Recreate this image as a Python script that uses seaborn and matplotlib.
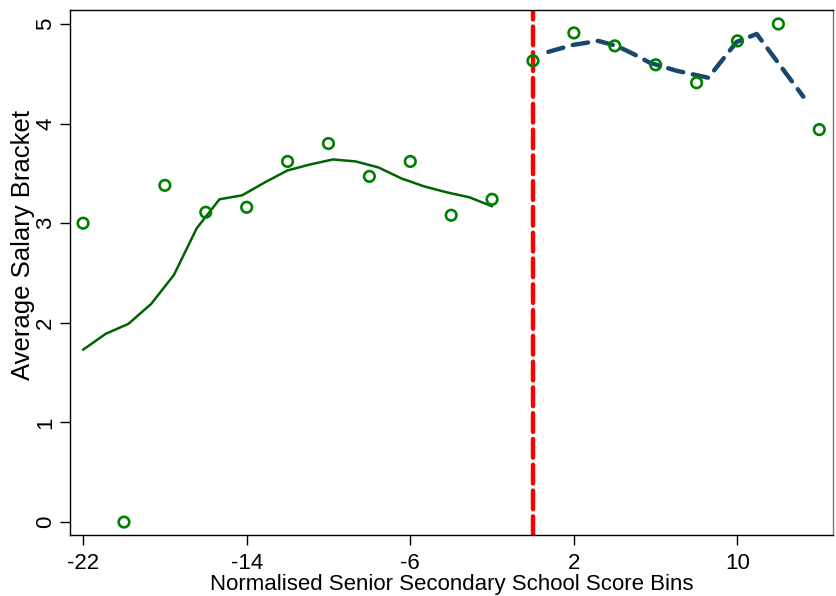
import numpy as np
import pandas as pd
import matplotlib
matplotlib.use("Agg")
import matplotlib.pyplot as plt
import seaborn as sns

# Binned scatter data
bin_x = [-22, -20, -18, -16, -14, -12, -10, -8, -6, -4, -2, 0, 2, 4, 6, 8, 10, 12, 14]
bin_y = [3.00, 0.00, 3.38, 3.11, 3.16, 3.62, 3.80, 3.47, 3.62, 3.08, 3.24,
         4.63, 4.91, 4.78, 4.59, 4.41, 4.83, 5.00, 3.94]

# Left fitted line
left_x = [-22.0, -20.89, -19.78, -18.67, -17.56, -16.44, -15.33, -14.22, -13.11, -12.0,
          -10.89, -9.78, -8.67, -7.56, -6.44, -5.33, -4.22, -3.11, -2.0]
left_y = [1.73, 1.89, 1.99, 2.19, 2.48, 2.95, 3.24, 3.28, 3.41, 3.53,
          3.59, 3.64, 3.62, 3.56, 3.45, 3.37, 3.31, 3.26, 3.17]

# Right fitted line
right_x = [0.75, 1.97, 3.19, 4.09, 4.90, 5.72, 7.03, 8.57, 9.96, 10.94, 13.22]
right_y = [4.72, 4.79, 4.83, 4.78, 4.70, 4.61, 4.53, 4.46, 4.82, 4.90, 4.27]

cutoff = 0
x_ticks = [-22, -14, -6, 2, 10]
y_ticks = [0, 1, 2, 3, 4, 5]

sns.set_theme(style="white", rc={"text.color": "black", "axes.labelcolor": "black",
                                 "xtick.color": "black", "ytick.color": "black"})
plt.rcParams['font.family'] = ['Liberation Sans', 'DejaVu Sans']

fig = plt.figure(figsize=(8.37, 5.96), dpi=100)
ax = fig.add_axes([0.0836, 0.1023, 0.9116, 0.8809])

df_bins = pd.DataFrame({"x": bin_x, "y": bin_y})
df_left = pd.DataFrame({"x": left_x, "y": left_y})
df_right = pd.DataFrame({"x": right_x, "y": right_y})

sns.lineplot(data=df_left, x="x", y="y", ax=ax, color="#006400", linewidth=1.8,
             sort=False, zorder=3)
sns.lineplot(data=df_right, x="x", y="y", ax=ax, color="#1a476f", linewidth=3.2,
             sort=False, zorder=3, dashes=False)
ax.lines[-1].set_dashes([3.5, 2.2])
ax.lines[-1].set_dash_capstyle("round")
ax.lines[-1].set_solid_capstyle("round")

vl = ax.axvline(cutoff, color="#ff0000", linewidth=3.2, zorder=2)
vl.set_dashes([4.2, 1.6])
vl.set_dash_capstyle("round")

sns.scatterplot(data=df_bins, x="x", y="y", ax=ax, marker="o", s=58,
                facecolor="none", edgecolor="#008000", linewidth=1.9, zorder=4)

ax.set_xlim(-22.64, 14.67)
ax.set_ylim(-0.13, 5.14)
ax.set_xticks(x_ticks)
ax.set_yticks(y_ticks)
ax.set_xticklabels([str(t) for t in x_ticks], fontsize=16)
ax.set_yticklabels([str(t) for t in y_ticks], fontsize=16, rotation=90, va="center")
ax.tick_params(axis="x", direction="out", length=7, width=1, color="black",
               labelcolor="black", bottom=True, pad=6)
ax.tick_params(axis="y", direction="out", length=7, width=1, color="black",
               labelcolor="black", left=True, pad=3)
ax.set_xlabel("Normalised Senior Secondary School Score Bins", fontsize=16,
              labelpad=0, color="black")
ax.set_ylabel("Average Salary Bracket", fontsize=18.5, color="black")
ax.yaxis.set_label_coords(-0.046, 0.552)

for side in ["left", "bottom", "top", "right"]:
    ax.spines[side].set_visible(True)
    ax.spines[side].set_color("black")
    ax.spines[side].set_linewidth(1.0)
ax.spines["right"].set_color("#777777")

fig.savefig("out.png", dpi=100)
